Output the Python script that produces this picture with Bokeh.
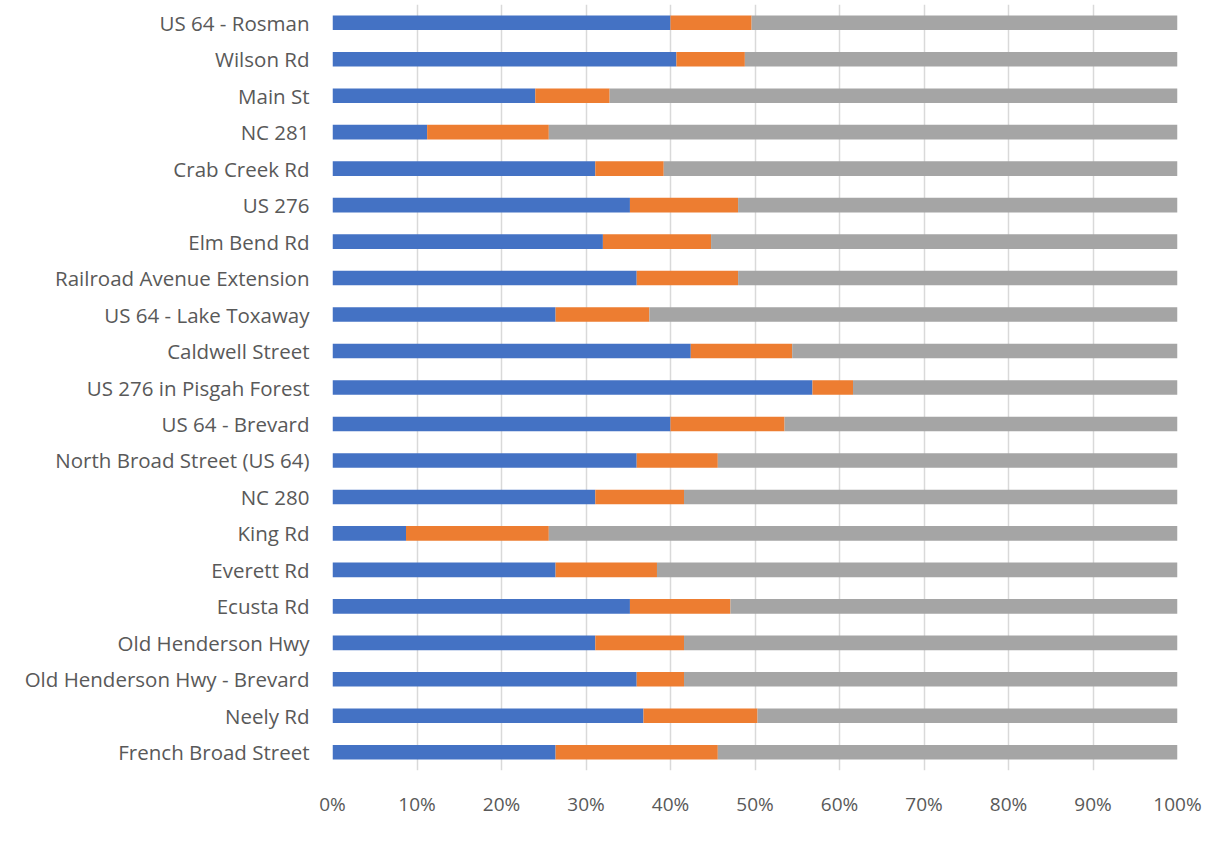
from bokeh.plotting import figure
from bokeh.models import FactorRange, Range1d, FixedTicker, NumeralTickFormatter, ColumnDataSource
from bokeh.embed import file_html
from bokeh.resources import INLINE

locations = [
    "US 64 - Rosman", "Wilson Rd", "Main St", "NC 281", "Crab Creek Rd", "US 276",
    "Elm Bend Rd", "Railroad Avenue Extension", "US 64 - Lake Toxaway", "Caldwell Street",
    "US 276 in Pisgah Forest", "US 64 - Brevard", "North Broad Street (US 64)", "NC 280",
    "King Rd", "Everett Rd", "Ecusta Rd", "Old Henderson Hwy", "Old Henderson Hwy - Brevard",
    "Neely Rd", "French Broad Street",
]
series_a = [40.0, 40.7, 24.0, 11.2, 31.1, 35.2, 32.0, 36.0, 26.4, 42.4,
            56.8, 40.0, 36.0, 31.1, 8.7, 26.4, 35.2, 31.1, 36.0, 36.8, 26.4]
series_b = [9.6, 8.1, 8.8, 14.4, 8.1, 12.8, 12.8, 12.0, 11.1, 12.0,
            4.8, 13.5, 9.6, 10.5, 16.9, 12.0, 11.9, 10.5, 5.6, 13.5, 19.2]
series_c = [round(100 - a - b, 1) for a, b in zip(series_a, series_b)]
x_ticks = [0, 0.1, 0.2, 0.3, 0.4, 0.5, 0.6, 0.7, 0.8, 0.9, 1.0]

src = ColumnDataSource(dict(
    loc=locations,
    a=[v / 100 for v in series_a],
    b=[v / 100 for v in series_b],
    c=[v / 100 for v in series_c],
))

p = figure(
    width=1216, height=853,
    y_range=FactorRange(*list(reversed(locations))),
    x_range=Range1d(0, 1),
    output_backend="svg", toolbar_location=None,
    min_border_left=332, min_border_right=39, min_border_top=4, min_border_bottom=83,
)
p.frame_width = 845
p.frame_height = 766

p.hbar_stack(["a", "b", "c"], y="loc", height=0.4, source=src,
             color=["#4472C4", "#ED7D31", "#A5A5A5"], line_color=None)

p.outline_line_color = None
p.background_fill_color = "white"
p.border_fill_color = "white"

p.xaxis.ticker = FixedTicker(ticks=x_ticks)
p.xaxis.formatter = NumeralTickFormatter(format="0%")
p.xaxis.axis_line_color = None
p.xaxis.major_tick_line_color = None
p.xaxis.minor_tick_line_color = None
p.xaxis.major_label_standoff = 14
p.xaxis.major_label_text_font = "Open Sans"
p.xaxis.major_label_text_font_size = "19px"
p.xaxis.major_label_text_color = "#595959"

p.yaxis.axis_line_color = None
p.yaxis.major_tick_line_color = None
p.yaxis.minor_tick_line_color = None
p.yaxis.major_label_standoff = 17
p.yaxis.major_label_text_font = "Open Sans"
p.yaxis.major_label_text_font_size = "20.5px"
p.yaxis.major_label_text_color = "#595959"

p.xgrid.grid_line_color = "#D9D9D9"
p.xgrid.grid_line_width = 1.5
p.ygrid.grid_line_color = None

open("out.html", "w").write(file_html(p, INLINE))
